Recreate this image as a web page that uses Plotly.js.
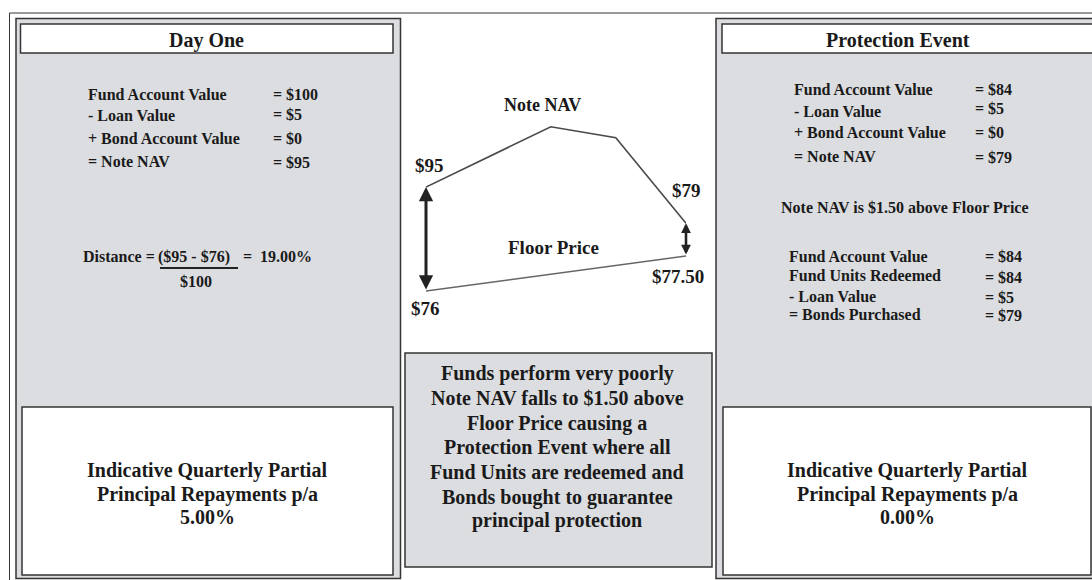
<!DOCTYPE html>
<html>
<head>
<meta charset="utf-8">
<script src="https://cdn.plot.ly/plotly-3.0.1.min.js"></script>
<style>html,body{margin:0;padding:0;background:#fff;}#chart{width:1092px;height:580px;}</style>
</head>
<body>
<div id="chart"></div>
<script>
// ---------- data ----------
const dayOneTitle = 'Day One';
const dayOneLabels = ['Fund Account Value', '- Loan Value', '+ Bond Account Value', '= Note NAV'];
const dayOneValues = ['= $100', '= $5', '= $0', '= $95'];
const distanceParts = ['Distance = ', '($95 - $76)', '=  19.00%', '$100'];
const dayOneRepayment = ['Indicative Quarterly Partial', 'Principal Repayments p/a', '5.00%'];

const protTitle = 'Protection Event';
const protLabels = ['Fund Account Value', '- Loan Value', '+ Bond Account Value', '= Note NAV'];
const protValues = ['= $84', '= $5', '= $0', '= $79'];
const protNote = 'Note NAV is $1.50 above Floor Price';
const redeemLabels = ['Fund Account Value', 'Fund Units Redeemed', '- Loan Value', '= Bonds Purchased'];
const redeemValues = ['= $84', '= $84', '= $5', '= $79'];
const protRepayment = ['Indicative Quarterly Partial', 'Principal Repayments p/a', '0.00%'];

// schematic (not to scale) path of Note NAV and Floor Price
const navTime = [0, 4.8, 7.3, 10];
const navLevel = [95, 106, 104, 88.4];
const floorTime = [0, 10];
const floorLevel = [76, 82.4];
const navLabels = ['$95', '$79'];
const floorLabels = ['$76', '$77.50'];
const seriesNames = ['Note NAV', 'Floor Price'];
const middleText = ['Funds perform very poorly', 'Note NAV falls to $1.50 above', 'Floor Price causing a',
  'Protection Event where all', 'Fund Units are redeemed and', 'Bonds bought to guarantee', 'principal protection'];

// ---------- helpers ----------
const W = 1092, H = 580;
const px = x => x / W;
const py = y => 1 - y / H;
const FONT = 'Liberation Serif, Times New Roman, serif';
const TXT = '#1a1a1a';
const EDGE = '#353535';
const GRAY = '#dcdde0';

function rect(x0, y0, x1, y1, fill, lw) {
  return {type: 'rect', xref: 'paper', yref: 'paper', x0: px(x0), x1: px(x1), y0: py(y1), y1: py(y0),
    fillcolor: fill, line: {color: EDGE, width: lw}, layer: 'below'};
}
function txt(x, y, text, size, xanchor) {
  return {xref: 'paper', yref: 'paper', x: px(x), y: py(y), text: '<b>' + text + '</b>', showarrow: false,
    xanchor: xanchor || 'center', yanchor: 'middle', font: {family: FONT, size: size, color: TXT}};
}

const shapes = [
  {type: 'rect', xref: 'paper', yref: 'paper', x0: px(9.5), x1: px(1120), y0: py(620), y1: py(13),
   fillcolor: 'rgba(0,0,0,0)', line: {color: EDGE, width: 1}, layer: 'below'},
  rect(16, 18.5, 400.5, 578.5, GRAY, 1.5),
  rect(20.5, 24, 393, 53, '#ffffff', 1.5),
  rect(22, 407, 393, 575, '#ffffff', 1.5),
  rect(716, 18.5, 1120, 578.5, GRAY, 1.5),
  rect(722, 24, 1120, 53, '#ffffff', 1.5),
  rect(723, 407, 1091, 575, '#ffffff', 1.5),
  rect(405, 353, 712, 567, GRAY, 1.5),
  {type: 'line', xref: 'paper', yref: 'paper', x0: px(160), x1: px(238), y0: py(268), y1: py(268),
   line: {color: '#222', width: 2}}
];

const ann = [];
ann.push(txt(206, 40, dayOneTitle, 20));
const rowY1 = [94, 116, 138, 161];
dayOneLabels.forEach((l, i) => ann.push(txt(86, rowY1[i], l, 16, 'left')));
const valY1 = [94, 114, 138, 162];
dayOneValues.forEach((v, i) => ann.push(txt(271, valY1[i], v, 16, 'left')));
ann.push(txt(81, 257, distanceParts[0], 16, 'left'));
ann.push(txt(194, 257, distanceParts[1], 16));
ann.push(txt(241, 257, distanceParts[2], 16, 'left'));
ann.push(txt(196, 281, distanceParts[3], 16));
const repY = [470, 494, 517];
dayOneRepayment.forEach((t, i) => ann.push(txt(207, repY[i], t, 20)));

ann.push(txt(898, 40, protTitle, 20));
const rowY2 = [89, 111, 133, 156];
protLabels.forEach((l, i) => ann.push(txt(792, rowY2[i], l, 16, 'left')));
const valY2 = [89, 108, 133, 157];
protValues.forEach((v, i) => ann.push(txt(973, valY2[i], v, 16, 'left')));
ann.push(txt(905, 207, protNote, 16));
const rowY3 = [256, 275, 296, 314];
redeemLabels.forEach((l, i) => ann.push(txt(787, rowY3[i], l, 16, 'left')));
const valY3 = [257, 277, 297, 315];
redeemValues.forEach((v, i) => ann.push(txt(983, valY3[i], v, 16, 'left')));
protRepayment.forEach((t, i) => ann.push(txt(907, repY[i], t, 20)));

const midY = [373, 398, 423, 447, 472, 497, 520];
middleText.forEach((t, i) => ann.push(txt(557, midY[i], t, 20)));

ann.push(txt(542, 105, seriesNames[0], 18));
ann.push(txt(553, 247, seriesNames[1], 19));

// data-anchored labels
function dlab(x, y, text, xs, ys) {
  return {xref: 'x', yref: 'y', x: x, y: y, text: '<b>' + text + '</b>', showarrow: false,
    xanchor: 'center', yanchor: 'middle', xshift: xs, yshift: ys, font: {family: FONT, size: 19, color: TXT}};
}
const nl = navTime.length - 1, fl = floorTime.length - 1;
ann.push(dlab(navTime[0], navLevel[0], navLabels[0], 3, 22));
ann.push(dlab(navTime[nl], navLevel[nl], navLabels[1], 0, 33));
ann.push(dlab(floorTime[0], floorLevel[0], floorLabels[0], -1, -17));
ann.push(dlab(floorTime[fl], floorLevel[fl], floorLabels[1], -8, -20));

// double arrows (distance to floor)
function darrow(x, yTop, yBot, size, width) {
  return {xref: 'x', yref: 'y', axref: 'x', ayref: 'y', x: x, y: yTop, ax: x, ay: yBot, text: '',
    showarrow: true, arrowhead: 2, arrowside: 'end+start', arrowsize: size, arrowwidth: width,
    arrowcolor: '#222', standoff: 0, startstandoff: 0};
}
ann.push(darrow(navTime[0], navLevel[0], floorLevel[0], 0.95, 3));
ann.push(darrow(navTime[nl], navLevel[nl], floorLevel[fl], 0.75, 2.6));

const traces = [
  {x: navTime, y: navLevel, name: seriesNames[0], type: 'scatter', mode: 'lines',
   line: {color: '#4a4a4a', width: 1.6}, hoverinfo: 'skip'},
  {x: floorTime, y: floorLevel, name: seriesNames[1], type: 'scatter', mode: 'lines',
   line: {color: '#666666', width: 1.6}, hoverinfo: 'skip'}
];

const layout = {
  width: W, height: H,
  margin: {l: 0, r: 0, t: 0, b: 0},
  paper_bgcolor: '#ffffff', plot_bgcolor: 'rgba(0,0,0,0)',
  showlegend: false,
  xaxis: {domain: [px(426), px(686)], range: [0, 10], visible: false, fixedrange: true},
  yaxis: {domain: [py(323.9), py(104.9)], range: [70, 110], visible: false, fixedrange: true},
  shapes: shapes,
  annotations: ann
};

Plotly.newPlot('chart', traces, layout, {displayModeBar: false, staticPlot: true});
</script>
</body>
</html>
